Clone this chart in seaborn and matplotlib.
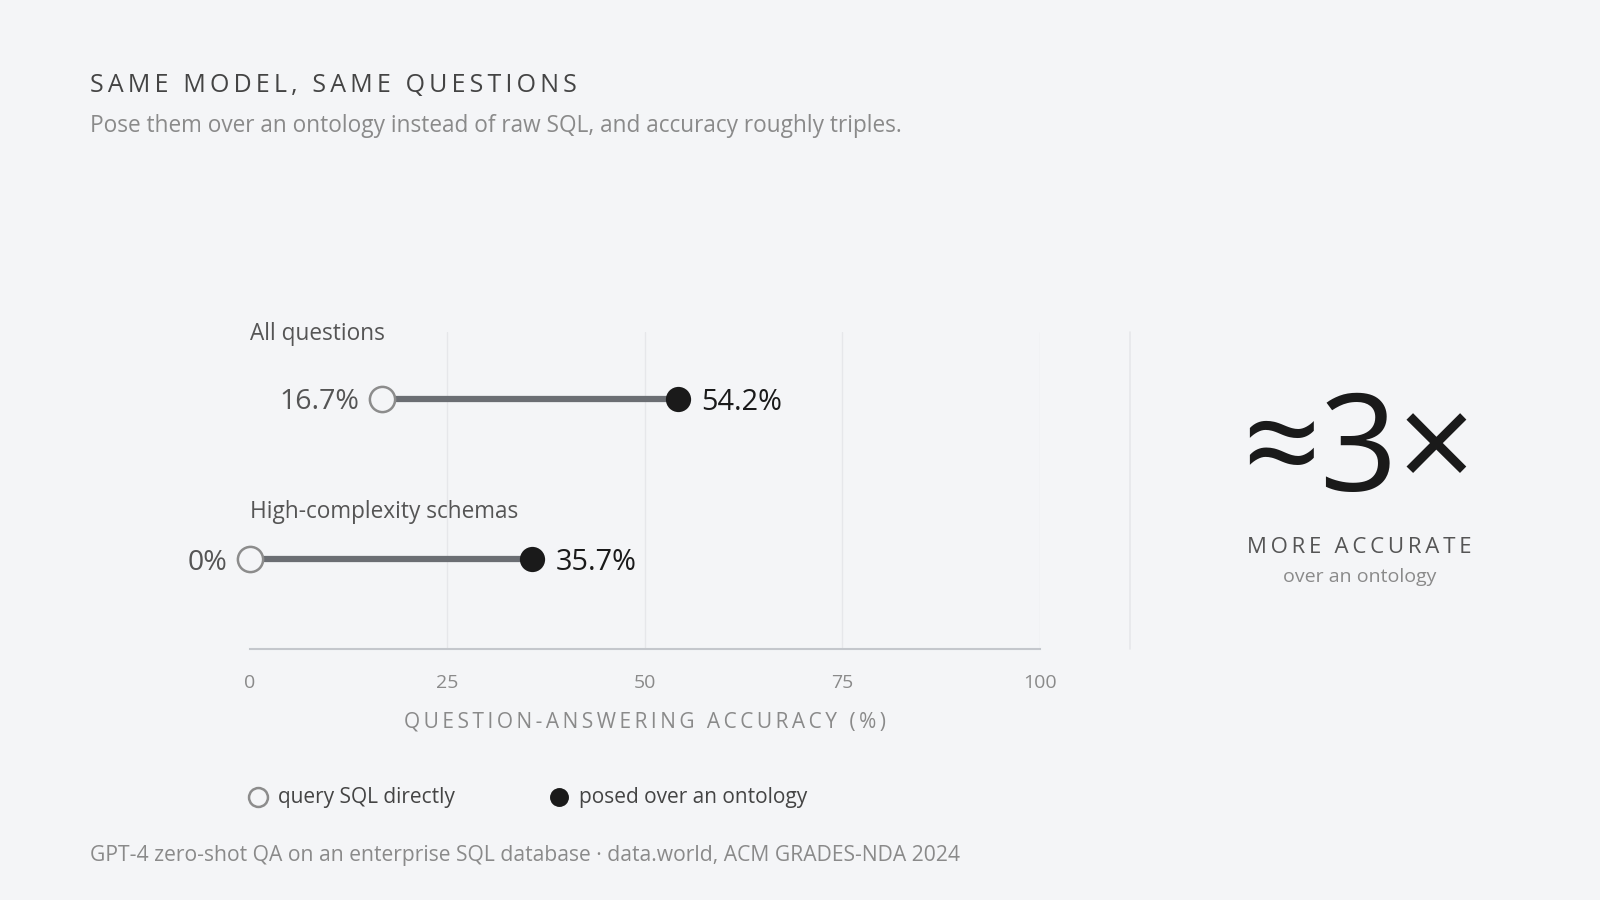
import matplotlib.pyplot as plt
from matplotlib.lines import Line2D
import seaborn as sns
import pandas as pd

# data
groups = ['All questions', 'High-complexity schemas']
sql_direct = [16.7, 0.0]
ontology = [54.2, 35.7]
x_ticks = [0, 25, 50, 75, 100]
series_names = ['query SQL directly', 'posed over an ontology']

bg = '#f4f5f7'
dark = '#1a1a1a'
grey = '#8a8a8a'

sns.set_theme(style='white', rc={'figure.facecolor': bg, 'axes.facecolor': bg,
                                 'savefig.facecolor': bg})
plt.rcParams['font.family'] = ['Open Sans', 'DejaVu Sans']


def spaced(s, gap='\u2009'):
    # fake letter-spacing
    return gap.join(s)


df = pd.DataFrame({'group': groups, 'row': range(len(groups)),
                   'sql': sql_direct, 'onto': ontology})

fig = plt.figure(figsize=(16, 9), dpi=100)
ax = fig.add_axes([0.1562, 0.279, 0.4937, 0.3526])
ax.set_xlim(0, 100)
ax.set_ylim(1.56, -0.42)

for x in x_ticks[1:]:
    ax.axvline(x, color='#e6e7ea', lw=1, zorder=0)

ax.hlines(df['row'], df['sql'], df['onto'], color='#6b6e73', lw=4.5, zorder=1)
sns.scatterplot(data=df, x='sql', y='row', ax=ax, s=330, color=bg,
                edgecolor='#8c8c8c', linewidth=1.8, zorder=3, clip_on=False,
                label=series_names[0])
sns.scatterplot(data=df, x='onto', y='row', ax=ax, s=330, color=dark,
                edgecolor=dark, linewidth=0, zorder=3, clip_on=False,
                label=series_names[1])

# row labels and value labels
label_offsets = [47, 34]
for i, r in df.iterrows():
    ax.annotate(r['group'], (0, r['row']), xytext=(0, label_offsets[i]),
                textcoords='offset points', ha='left', va='center',
                fontsize=16.3, color='#555555')
    ax.annotate(f"{r['sql']:g}%", (r['sql'], r['row']), xytext=(-16, 0),
                textcoords='offset points', ha='right', va='center_baseline',
                fontsize=20.5, color='#555555')
    ax.annotate(f"{r['onto']:g}%", (r['onto'], r['row']), xytext=(17, 0),
                textcoords='offset points', ha='left', va='center_baseline',
                fontsize=20.8, color=dark)

ax.set_xticks(x_ticks)
ax.set_yticks([])
ax.tick_params(axis='x', length=0, pad=18, labelsize=14, labelcolor=grey)
for side in ['top', 'left', 'right']:
    ax.spines[side].set_visible(False)
ax.spines['bottom'].set_color('#c4c7cc')
ax.spines['bottom'].set_linewidth(1.5)
ax.set_xlabel(spaced('QUESTION-ANSWERING ACCURACY (%)'), fontsize=15,
              color=grey, labelpad=14)
ax.set_ylabel('')

ax.legend(loc='center left', bbox_to_anchor=(0.155, 0.114),
          bbox_transform=fig.transFigure, ncol=2, frameon=False,
          fontsize=15, markerscale=0.75, handlelength=1.0, handletextpad=0.45,
          columnspacing=4.5, borderpad=0, borderaxespad=0,
          labelcolor='#444444')

# separator and the callout on the right
fig.add_artist(Line2D([0.706, 0.706], [0.279, 0.6315], color='#e6e7ea', lw=1.2))
fig.text(0.8495, 0.4545, '≈3×', ha='center', va='baseline', fontsize=98, color=dark)
fig.text(0.8495, 0.392, spaced('MORE ACCURATE'), ha='center', va='center',
         fontsize=16, color='#555555')
fig.text(0.8495, 0.359, 'over an ontology', ha='center', va='center',
         fontsize=14, color=grey)

# title block and footer
fig.text(0.0561, 0.898, spaced('SAME MODEL, SAME QUESTIONS'), ha='left',
         va='baseline', fontsize=18, color='#444444')
fig.text(0.0561, 0.853, 'Pose them over an ontology instead of raw SQL, and accuracy roughly triples.',
         ha='left', va='baseline', fontsize=16.3, color=grey)
fig.text(0.0561, 0.043, 'GPT-4 zero-shot QA on an enterprise SQL database · data.world, ACM GRADES-NDA 2024',
         ha='left', va='baseline', fontsize=15.2, color=grey)

fig.savefig('out.png', dpi=100)
